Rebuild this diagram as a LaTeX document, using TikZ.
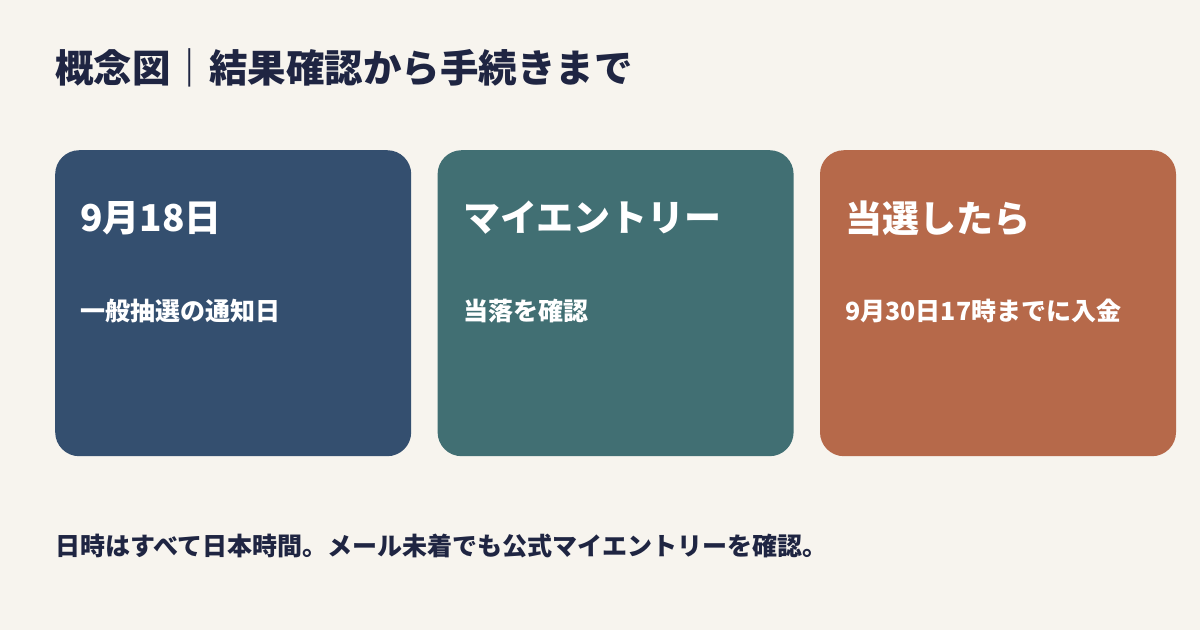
\documentclass[tikz,border=0pt]{standalone}
\usepackage{fontspec}
\setmainfont{Noto Sans CJK JP}
\usetikzlibrary{positioning}

\definecolor{paper}{HTML}{F7F4EE}
\definecolor{ink}{HTML}{1F2542}
\definecolor{navy}{HTML}{344F6F}
\definecolor{teal}{HTML}{416F73}
\definecolor{rust}{HTML}{B6694A}

\tikzset{
  card/.style={rounded corners=24pt,minimum width=356pt,minimum height=306pt,inner sep=0pt,anchor=north west},
  cardhead/.style={anchor=west,inner sep=0pt,text=white,font=\fontsize{37}{44}\selectfont\bfseries},
  cardtext/.style={anchor=west,inner sep=0pt,text=white,font=\fontsize{25}{30}\selectfont\bfseries},
}

\begin{document}
\begin{tikzpicture}[x=1pt,y=-1pt,node distance=26pt]
   \fill[paper] (0,0) rectangle (1200,630);
   \useasboundingbox (0,0) rectangle (1200,630);
   \node (title) [anchor=west,inner sep=0pt,text=ink,font=\fontsize{38.5}{46}\selectfont\bfseries] at (55,68) {概念図｜結果確認から手続きまで};
   \node[card,fill=navy] (c1) at (55,150) {};
   \node[card,fill=teal] (c2) [right=of c1.north east,anchor=north west] {};
   \node[card,fill=rust] (c3) [right=of c2.north east,anchor=north west] {};
   \node[cardhead] (h1) at (80,218) {9月18日};
   \node[cardhead] (h2) at (463,218) {マイエントリー};
   \node[cardhead] (h3) at (845,218) {当選したら};
   \node[cardtext] (t1) at (80,311) {一般抽選の通知日};
   \node[cardtext] (t2) at (463,311) {当落を確認};
   \node[cardtext] (t3) at (845,311) {9月30日17時までに入金};
   \node (note) [anchor=west,inner sep=0pt,text=ink,font=\fontsize{25}{30}\selectfont\bfseries] at (55,546) {日時はすべて日本時間。メール未着でも公式マイエントリーを確認。};
\end{tikzpicture}
\end{document}
